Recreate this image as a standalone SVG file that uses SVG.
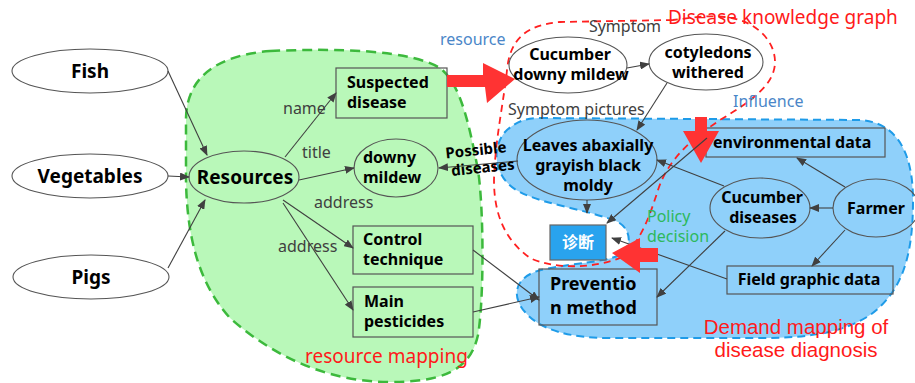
<svg xmlns="http://www.w3.org/2000/svg" width="915" height="383" viewBox="0 0 915 383">
<style>
.n{fill:#000;font-family:"Noto Sans","Liberation Sans",sans-serif;font-weight:bold;text-anchor:middle}
.nl{fill:#000;font-family:"Noto Sans","Liberation Sans",sans-serif;font-weight:bold}
.lb{fill:#404040;font-family:"Noto Sans","Liberation Sans",sans-serif;font-size:16px}
.blue{fill:#4a86c8;font-family:"Noto Sans","Liberation Sans",sans-serif;font-size:16px}
.red{fill:#ff1a1a;font-family:"Noto Sans","Liberation Sans",sans-serif;font-size:19px}
.red2{fill:#ff1a1a;font-family:"Liberation Sans","Noto Sans",sans-serif;font-size:20.5px}
.grn{fill:#2db85c;font-family:"Noto Sans","Liberation Sans",sans-serif;font-size:16px}
.el{stroke:#555;stroke-width:1.1}
.bx{fill:none;stroke:#555;stroke-width:1.2}
.c{fill:none;stroke:#404040;stroke-width:1.1;marker-end:url(#ah)}
.big{fill:#ff3333}
</style>
<defs>
<marker id="ah" markerWidth="10" markerHeight="8" refX="9" refY="4" orient="auto" markerUnits="userSpaceOnUse">
<path d="M0,0 L10,4 L0,8 Z" fill="#404040"/>
</marker>
</defs>
<rect width="915" height="383" fill="#fff"/>

<g id="regions">
<path id="green-region" d="M270,51 C340,48 410,50 440,68 C462,85 470,130 478,170 C484,210 484,300 478,335 C470,372 440,382 390,382 C330,382 275,358 230,318 C200,285 187,240 186,180 L186,118 C187,75 220,55 270,51 Z" fill="#b9f8b9" stroke="#3cb93c" stroke-width="2.5" stroke-dasharray="10,6"/>
<path id="blue-region" d="M540,118 L860,120 C895,122 913,150 913,200 C913,250 905,290 870,315 C840,335 800,338 760,338 L610,338 C570,338 540,330 525,312 C510,295 515,275 545,269 C575,263 605,262 620,255 C632,248 632,230 618,222 C590,210 545,205 520,192 C495,180 490,150 505,132 C515,122 525,118 540,118 Z" fill="#8fd0fa" stroke="#1e9be8" stroke-width="2" stroke-dasharray="8,5"/>
<path id="red-region" d="M673,20 L560,22 C525,25 510,40 507,70 C504,100 495,140 494,180 C494,215 505,240 530,258 C555,270 595,268 620,258 C640,245 650,215 658,190 C668,160 690,140 720,120 C750,102 775,85 775,62 C775,40 755,20 725,17 C705,15 690,18 673,20 Z" fill="none" stroke="#ff2020" stroke-width="1.8" stroke-dasharray="7,5"/>
</g>

<g id="node-fish"><ellipse class="el" cx="90" cy="71" rx="78" ry="22" fill="#fff"/><text class="n" x="90" y="78" font-size="19">Fish</text></g>
<g id="node-vegetables"><ellipse class="el" cx="90" cy="176" rx="78" ry="22" fill="#fff"/><text class="n" x="90" y="183" font-size="19">Vegetables</text></g>
<g id="node-pigs"><ellipse class="el" cx="91" cy="277" rx="78" ry="22" fill="#fff"/><text class="n" x="91" y="284" font-size="19">Pigs</text></g>
<g id="node-resources"><ellipse class="el" cx="244" cy="177" rx="55" ry="26" fill="none"/><text class="n" x="245" y="184" font-size="19">Resources</text></g>
<g id="node-suspected"><rect class="bx" x="336" y="68" width="111" height="50"/><text class="nl" x="347" y="88" font-size="16">Suspected</text><text class="nl" x="347" y="108" font-size="16">disease</text></g>
<g id="node-downy"><ellipse class="el" cx="396" cy="168" rx="42" ry="29" fill="none"/><text class="nl" x="363" y="163" font-size="16">downy</text><text class="nl" x="363" y="183" font-size="16">mildew</text></g>
<g id="node-control"><rect class="bx" x="353" y="226" width="120" height="48"/><text class="nl" x="363" y="245" font-size="16">Control</text><text class="nl" x="363" y="265" font-size="16">technique</text></g>
<g id="node-pesticides"><rect class="bx" x="353" y="287" width="120" height="50"/><text class="nl" x="364" y="307" font-size="16">Main</text><text class="nl" x="364" y="327" font-size="16">pesticides</text></g>
<g id="node-cdm"><ellipse class="el" cx="568" cy="65" rx="59" ry="28" fill="#fff"/><text class="n" x="570" y="60" font-size="16">Cucumber</text><text class="n" x="571" y="80" font-size="16">downy mildew</text></g>
<g id="node-cotyledons"><ellipse class="el" cx="706" cy="62" rx="57" ry="28" fill="#fff"/><text class="n" x="708" y="58" font-size="16">cotyledons</text><text class="n" x="708" y="78" font-size="16">withered</text></g>
<g id="node-leaves"><ellipse class="el" cx="587" cy="160" rx="70" ry="40" fill="none"/><text class="n" x="588" y="151" font-size="16">Leaves abaxially</text><text class="n" x="588" y="171" font-size="16">grayish black</text><text class="n" x="588" y="191" font-size="16">moldy</text></g>
<g id="node-zhenduan"><rect x="550" y="225" width="56" height="35" fill="#29a3ee" stroke="#666" stroke-width="1.2"/><text x="578" y="248" font-size="16" font-weight="bold" fill="#fff" text-anchor="middle" font-family="'Noto Sans CJK SC',sans-serif">诊断</text></g>
<g id="node-env"><rect class="bx" x="706" y="128" width="179" height="29"/><text class="nl" x="713" y="148" font-size="16">environmental data</text></g>
<g id="node-cucdis"><ellipse class="el" cx="760" cy="208" rx="50" ry="30" fill="none"/><text class="n" x="762" y="203" font-size="16">Cucumber</text><text class="n" x="763" y="223" font-size="16">diseases</text></g>
<g id="node-farmer"><ellipse class="el" cx="876" cy="208" rx="43" ry="29" fill="none"/><text class="n" x="876" y="214" font-size="16">Farmer</text></g>
<g id="node-field"><rect class="bx" x="727" y="266" width="166" height="28"/><text class="n" x="809" y="285" font-size="16">Field graphic data</text></g>
<g id="node-prevention"><rect class="bx" x="539" y="269" width="118" height="56"/><text class="nl" x="550" y="290" font-size="18">Preventio</text><text class="nl" x="550" y="314" font-size="18">n method</text></g>

<g id="connectors">
<path class="c" d="M168,71 L207,155"/>
<path class="c" d="M168,176 L189,177"/>
<path class="c" d="M168,268 L205,200"/>
<path class="c" d="M285,157 L336,93"/>
<path class="c" d="M299,180 L354,168"/>
<path class="c" d="M283,200 L353,248"/>
<path class="c" d="M283,203 L353,310"/>
<path class="c" d="M473,250 L539,300"/>
<path class="c" d="M473,312 L539,297"/>
<path class="c" d="M627,68 L649,64"/>
<path class="c" d="M667,83 L637,130"/>
<path class="c" d="M518,161 L439,168"/>
<path class="c" d="M587,200 L587,213"/>
<path class="c" d="M724,186 L657,160"/>
<path class="c" d="M845,187 L797,158"/>
<path class="c" d="M833,208 L810,208"/>
<path class="c" d="M845,230 L812,266"/>
<path class="c" d="M725,231 L657,297"/>
<path class="c" d="M727,279 L612,238"/>
</g>

<g id="big-arrows">
<polygon class="big" points="447,75 483,75 483,63 515,79 487,103 485,87 447,87"/>
<polygon class="big" points="695,117 707,117 707,131 719,131 701,163 683,131 695,131"/>
<polygon class="big" points="612,253 640,238 640,248 658,248 658,262 640,262 640,273"/>
</g>
<path class="c" d="M707,138 L607,223"/>

<g id="labels">
<text class="lb" x="283" y="114">name</text>
<text class="lb" x="302" y="158">title</text>
<text class="lb" x="314" y="208">address</text>
<text class="lb" x="278" y="252">address</text>
<text class="blue" x="440" y="45">resource</text>
<text class="lb" x="625" y="32" text-anchor="middle">Symptom</text>
<text class="lb" x="508" y="115">Symptom pictures</text>
<text class="blue" x="733" y="107">Influence</text>
<g transform="rotate(-6 480 160)"><text class="n" x="477" y="155" font-size="15">Possible</text><text class="n" x="482" y="173" font-size="15">diseases</text></g>
<text class="grn" x="647" y="222">Policy</text>
<text class="grn" x="647" y="242">decision</text>
<text class="red" x="668" y="24">Disease knowledge graph</text>
<text class="red" x="305" y="363">resource mapping</text>
<text class="red2" x="796" y="334" text-anchor="middle">Demand mapping of</text>
<text class="red2" x="796" y="357" text-anchor="middle">disease diagnosis</text>
</g>
</svg>
